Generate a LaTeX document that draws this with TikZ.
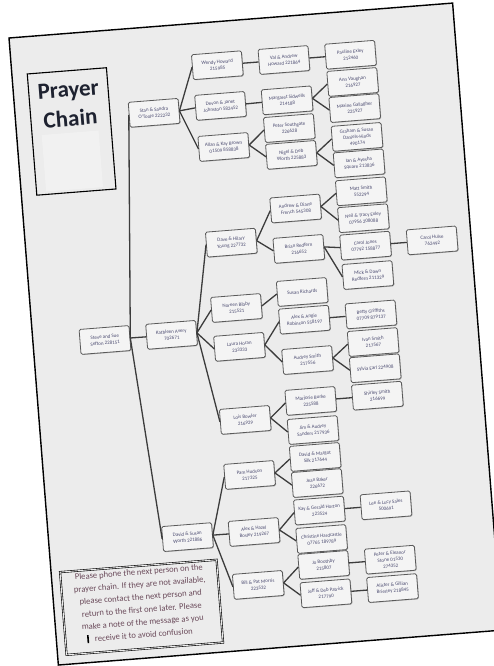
\documentclass[tikz,border=0pt]{standalone}
\usepackage{fontspec}
\setmainfont{Carlito}
\usetikzlibrary{shadows}
\definecolor{pagefill}{HTML}{ECECEC}
\definecolor{boxfill}{HTML}{F4F4F4}
\definecolor{boxline}{HTML}{5A5A5A}
\definecolor{linkcol}{HTML}{3C3C3C}
\definecolor{nametext}{HTML}{4A4A70}
\definecolor{notetext}{HTML}{6A4A5A}
\definecolor{titletext}{HTML}{1E2230}
\tikzset{
  person/.style={draw=boxline, line width=0.8pt, fill=boxfill, rounded corners=1.5pt,
    minimum width=50pt, minimum height=25pt, inner sep=0.5pt, align=center,
    text=nametext, font=\fontsize{5}{6.4}\selectfont,
    drop shadow={shadow xshift=0.7pt, shadow yshift=-0.7pt, fill=black, opacity=0.25}},
  link/.style={draw=linkcol, line width=1.3pt},
}
\begin{document}
\begin{tikzpicture}[x=1pt,y=1pt]
\useasboundingbox (0,0) rectangle (493,-666);
\fill[white] (0,0) rectangle (493,-666);
\begin{scope}[shift={(9,-38)},rotate=4.5,transform shape]
    % page
    \draw[line width=1.4pt, fill=pagefill] (0,0) rectangle (445,-629);
    % title
    \draw[line width=1.1pt] (15.4,-37.3) rectangle (94.8,-158.9);
    \fill[white!25!pagefill] (25,-99.3) rectangle (82,-156);
    \node[text=titletext, font=\fontsize{23}{26}\selectfont\bfseries] (prayer) at (55,-58) {Prayer};
    \node[text=titletext, font=\fontsize{23}{26}\selectfont\bfseries] (chain) at (55,-84.6) {Chain};
    % note
    \draw[line width=0.6pt, double=pagefill, double distance=0.9pt] (9,-536.5) rectangle (166,-619.5);
    \node[text=notetext, font=\fontsize{8.6}{12.6}\selectfont, align=center] (note) at (87.5,-574.5)
        {Please phone the next person on the\\prayer chain. If they are not available,\\please contact the next person and\\return to the first one later. Please\\make a note of the message as you\\\llap{\textcolor{black}{\rule[-1pt]{1.6pt}{8pt}}\hspace{6pt}}receive it to avoid confusion};
    % level 0 and 1
    \node[person] (root) at (72,-308.6) {Steve and Sue\\Sefton 228151};
    \node[person] (stan) at (138.8,-86) {Stan \& Sandra\\O'Toole 222232};
    \node[person] (kath) at (138.8,-308.7) {Kathleen Avery\\702671};
    \node[person] (dsw) at (138.8,-511.6) {David \& Susan\\Worth 221886};
    % level 2
    \node[person] (wendy) at (205.6,-43.5) {Wendy Howard\\215985};
    \node[person] (devon) at (205.6,-84.3) {Devon \& Janet\\Johnston 582452};
    \node[person] (allan) at (205.6,-125.5) {Allan \& Kay Brown\\01509 858838};
    \node[person] (dhy) at (205.6,-221.5) {Dave \& Hilary\\Young 227732};
    \node[person] (noreen) at (205.6,-287) {Noreen Bibby\\215521};
    \node[person] (laura) at (205.6,-326) {Laura Horan\\233333};
    \node[person] (lois) at (205.6,-399.3) {Lois Bowler\\216929};
    \node[person] (pam) at (205.6,-454.5) {Pam Hudson\\217325};
    \node[person] (ahb) at (205.6,-511.7) {Alex \& Hazel\\Bosley 219267};
    \node[person] (bpm) at (205.6,-564.8) {Bill \& Pat Morris\\223532};
    % level 3
    \node[person] (val) at (272.4,-43.5) {Val \& Andrew\\Howard 221864};
    \node[person] (marg) at (272.4,-84) {Margaret Sidwells\\214188};
    \node[person] (peters) at (272.4,-111.8) {Peter Southgate\\226628};
    \node[person] (nigel) at (272.4,-138.7) {Nigel \& Deb\\Worth 225883};
    \node[person] (adf) at (272.4,-192.5) {Andrew \& Diane\\French 545308};
    \node[person] (brian) at (272.4,-233) {Brian Redfern\\216652};
    \node[person] (susan) at (272.4,-276.2) {Susan Richards};
    \node[person] (aar) at (272.4,-304) {Alex \& Angie\\Robinson 558197};
    \node[person] (audrey) at (272.4,-344.5) {Audrey Smith\\217556};
    \node[person] (marj) at (272.4,-385.5) {Marjorie Burke\\225588};
    \node[person] (jas) at (272.4,-414.7) {Jim \& Audrey\\Sanders 217936};
    \node[person] (dms) at (272.4,-441.7) {David \& Margot\\Silk 217644};
    \node[person] (jean) at (272.4,-467.9) {Jean Baker\\226672};
    \node[person] (kay) at (272.4,-495.5) {Kay \& Gerald Horton\\223524};
    \node[person] (chris) at (272.4,-524) {Christine Hardcastle\\07765 189789};
    \node[person] (jo) at (272.4,-550) {Jo Boothby\\215807};
    \node[person] (jeff) at (272.4,-578.5) {Jeff \& Deb Patrick\\217790};
    % level 4
    \node[person] (pauline) at (339.2,-43.5) {Pauline Exley\\212460};
    \node[person] (ann) at (339.2,-70.8) {Ann Vaughan\\216927};
    \node[person] (maxine) at (339.2,-97) {Maxine Gallagher\\225927};
    \node[person] (graham) at (339.2,-125.9) {Graham \& Susan\\Daniels-Hinds\\490174};
    \node[person] (ian) at (339.2,-152.5) {Ian \& Ayesha\\Square 213836};
    \node[person] (matt) at (339.2,-180.5) {Matt Smith\\552294};
    \node[person] (neil) at (339.2,-207.5) {Neil \& Tracy Exley\\07956 208088};
    \node[person] (carolj) at (339.2,-235) {Carol Jones\\07792 158877};
    \node[person] (mick) at (339.2,-264.5) {Mick \& Dawn\\Redfern 211329};
    \node[person] (betty) at (339.2,-304) {Betty Griffiths\\07709 879137};
    \node[person] (ivan) at (339.2,-331.7) {Ivan Smith\\217567};
    \node[person] (sylvia) at (339.2,-358) {Sylvia Earl 224908};
    \node[person] (shirley) at (339.2,-385.5) {Shirley Smith\\216699};
    \node[person] (lee) at (339.2,-495.5) {Lee \& Lucy Sales\\500691};
    \node[person] (petere) at (339.2,-550) {Peter \& Eleanor\\Stone 01530\\274352};
    \node[person] (alister) at (339.2,-578.5) {Alister \& Gillian\\Brierley 218845};
    % level 5
    \node[person] (carolh) at (406,-235) {Carol Hulse\\762492};
    % connectors
    \foreach \a/\b in {root/stan, root/kath, root/dsw,
        stan/wendy, stan/devon, stan/allan, wendy/val, val/pauline,
        devon/marg, marg/ann, marg/maxine, allan/peters, allan/nigel, nigel/graham, nigel/ian,
        kath/dhy, kath/noreen, kath/laura, kath/lois,
        dhy/adf, dhy/brian, adf/matt, adf/neil, brian/carolj, brian/mick, carolj/carolh,
        noreen/susan, laura/aar, laura/audrey, aar/betty, audrey/ivan, audrey/sylvia,
        lois/marj, lois/jas, marj/shirley,
        dsw/pam, dsw/ahb, dsw/bpm, pam/dms, pam/jean, ahb/kay, ahb/chris, kay/lee,
        bpm/jo, bpm/jeff, jo/petere, jeff/alister}{
        \draw[link] (\a.east) -- (\b.west);
    }
\end{scope}
\end{tikzpicture}
\end{document}
